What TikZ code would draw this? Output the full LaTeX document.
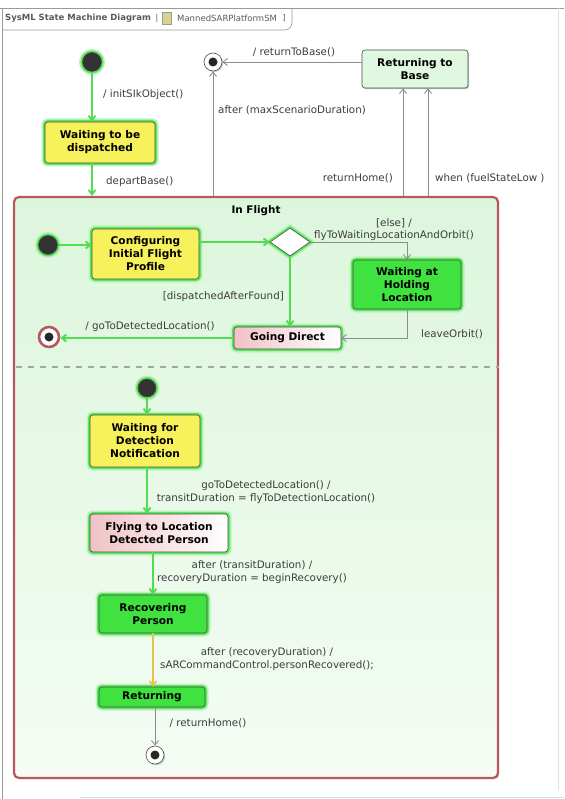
\documentclass[tikz,border=0pt]{standalone}
\usepackage{fontspec}
\setmainfont{DejaVu Sans}
\usetikzlibrary{arrows.meta,shapes.geometric,shadows,calc}

\definecolor{glowgreen}{HTML}{5CE65C}
\definecolor{glowsoft}{HTML}{BDF3BD}
\definecolor{edgegray}{HTML}{4A4A4A}
\definecolor{stateyellow}{HTML}{F7F15C}
\definecolor{stategreen}{HTML}{3FE23F}
\definecolor{statepink}{HTML}{F0C2C6}
\definecolor{palegreen}{HTML}{E0F8E0}
\definecolor{flightborder}{HTML}{B8585E}
\definecolor{flighttop}{HTML}{DCF6DC}
\definecolor{flightbottom}{HTML}{F4FCF4}
\definecolor{linegreen}{HTML}{52DC52}
\definecolor{linegray}{HTML}{8C8C8C}
\definecolor{lineyellow}{HTML}{E2C447}
\definecolor{labelgray}{HTML}{3C3C3C}
\definecolor{framegray}{HTML}{9A9A9A}
\definecolor{dotgray}{HTML}{333333}

\tikzset{
  x=1pt, y=-1pt,
  glow/.style={preaction={draw=glowsoft,line width=7pt},
               preaction={draw=glowgreen,line width=4pt}},
  softshadow/.style={drop shadow={shadow xshift=1.2pt,shadow yshift=-1.2pt,opacity=0.35,fill=black!60}},
  statebox/.style={rectangle,rounded corners=3pt,draw=edgegray,line width=0.6pt,
     align=center,inner sep=0pt,text=black,
     font=\fontsize{10.6}{13}\selectfont\bfseries},
  yellowbox/.style={statebox,glow,fill=stateyellow},
  greenbox/.style={statebox,glow,fill=stategreen},
  pinkbox/.style={statebox,glow,left color=statepink,right color=white},
  palebox/.style={statebox,softshadow,fill=palegreen},
  initdot/.style={circle,fill=dotgray,draw=edgegray,line width=0.5pt,
     minimum size=19pt,inner sep=0pt,glow},
  finaldot/.style={circle,draw=edgegray,fill=white,line width=0.6pt,
     minimum size=18pt,inner sep=0pt,softshadow,
     path picture={\fill[black!85] (path picture bounding box.center) circle (4.5pt);}},
  exitdot/.style={circle,draw=flightborder,fill=white,line width=2.6pt,
     minimum size=20pt,inner sep=0pt,
     path picture={\fill[black!85] (path picture bounding box.center) circle (4.5pt);}},
  tlabel/.style={text=labelgray,font=\fontsize{10.3}{12.5}\selectfont,inner sep=1pt,align=center},
  trans/.style={-{Straight Barb[length=4.5pt,width=7pt]},line width=0.9pt},
  graytrans/.style={trans,draw=linegray},
  greentrans/.style={trans,draw=linegreen,line width=1.9pt},
  yellowtrans/.style={trans,draw=lineyellow,line width=1.6pt},
  headertext/.style={text=black!65,inner sep=0pt,font=\fontsize{8}{9}\selectfont},
}

\begin{document}
\begin{tikzpicture}
\useasboundingbox (0,0) rectangle (564,799);

% diagram frame and its name tab
\draw[framegray,line width=0.8pt] (0,8) -- (564,8);
\draw[framegray,line width=0.8pt] (2,8) -- (2,799);
\draw[black!12,line width=0.6pt] (558,8) -- (558,790);
\draw[framegray,line width=0.7pt] (2,30) -- (285,30) to[out=0,in=-90] (292,22) -- (292,8);
\draw[color=black!15!cyan!25,line width=1pt] (80,797) -- (564,797);
\node[headertext,anchor=west,font=\fontsize{8.5}{9}\selectfont\bfseries] (hdrkind) at (5,18) {SysML State Machine Diagram};
\node[headertext] (hdrbar) at (157,18) {|};
\node[draw=black!40,fill=olive!35!white,minimum width=9pt,minimum height=12pt,inner sep=0pt] (hdricon) at (167,18) {};
\node[headertext,anchor=west,font=\fontsize{8.5}{9}\selectfont] (hdrname) at (177,18) {MannedSARPlatformSM};
\node[headertext] (hdrend) at (284,18) {]};

% composite state
\node[rectangle,rounded corners=5pt,draw=flightborder,line width=2.2pt,
      top color=flighttop,bottom color=flightbottom,softshadow,
      minimum width=484pt,minimum height=581pt,inner sep=0pt] (inflight) at (256,487.5) {};
\node[font=\fontsize{10.4}{12}\selectfont\bfseries] (flighttitle) at (256,211) {In Flight};
\draw[black!35,line width=1.3pt,dash pattern=on 6pt off 6pt] (inflight.west |- 0,367) ++(3,0) coordinate (sepL) -- (inflight.east |- 0,367) coordinate (sepR);

% top level states
\node[initdot] (init1) at (92,62) {};
\node[finaldot] (final1) at (213,62) {};
\node[yellowbox,minimum width=110pt,minimum height=41pt] (wait) at (100,142.5) {Waiting to be\\dispatched};
\node[palebox,minimum width=106pt,minimum height=38pt] (rtb) at (415,69) {Returning to\\Base};

% upper region of In Flight
\node[initdot] (init2) at (48,245) {};
\node[yellowbox,minimum width=107pt,minimum height=50pt] (conf) at (145.5,254) {Configuring\\Initial Flight\\Profile};
\node[diamond,draw=edgegray,fill=white,line width=0.6pt,glow,
      minimum width=40pt,minimum height=28pt,inner sep=0pt] (dec) at (290,242) {};
\node[greenbox,minimum width=108pt,minimum height=49pt] (hold) at (407,284.5) {Waiting at\\Holding\\Location};
\node[pinkbox,minimum width=107pt,minimum height=22pt] (direct) at (287.5,338) {Going Direct};
\node[exitdot] (exit) at (49,337) {};

% lower region of In Flight
\node[initdot,minimum size=18pt] (init3) at (147,388) {};
\node[yellowbox,minimum width=110pt,minimum height=52pt] (wdet) at (145,441) {Waiting for\\Detection\\Notification};
\node[pinkbox,minimum width=138pt,minimum height=38pt] (fly) at (159,533) {Flying to Location\\Detected Person};
\node[greenbox,minimum width=108pt,minimum height=38pt] (rec) at (153,614) {Recovering\\Person};
\node[greenbox,minimum width=106pt,minimum height=20pt] (ret) at (152,697) {Returning};
\node[finaldot] (final3) at (155,755) {};

% top level transitions
\draw[greentrans] (init1) -- (init1 |- wait.north);
\node[tlabel,anchor=west] (lInit) at (102,95) {/ initSIkObject()};
\draw[greentrans] (wait.south -| init1) -- (init1 |- inflight.north);
\node[tlabel,anchor=west] (lDepart) at (105,182) {departBase()};
\draw[graytrans] (inflight.north -| final1) -- (final1);
\node[tlabel,anchor=west] (lMax) at (217,110) {after (maxScenarioDuration)};
\draw[graytrans] (rtb.west |- final1) -- (final1);
\node[tlabel] (lRtb) at (294,52) {/ returnToBase()};
\coordinate (homeX) at (403,0);
\coordinate (fuelX) at (428,0);
\draw[graytrans] (inflight.north -| homeX) -- (homeX |- rtb.south);
\node[tlabel,anchor=east] (lHome) at (394,178) {returnHome()};
\draw[graytrans] (inflight.north -| fuelX) -- (fuelX |- rtb.south);
\node[tlabel,anchor=west] (lFuel) at (434,178) {when (fuelStateLow )};

% upper region transitions
\draw[greentrans] (init2) -- (init2 -| conf.west);
\draw[greentrans] (conf.east |- dec.west) -- (dec.west);
\draw[graytrans] (dec.east) -| (hold.north);
\node[tlabel] (lElse) at (394,229.5) {[else] /\\flyToWaitingLocationAndOrbit()};
\draw[greentrans] (dec.south) -- (dec.south |- direct.north);
\node[tlabel,anchor=east] (lFound) at (285,297) {[dispatchedAfterFound]};
\draw[graytrans] (hold.south) |- (direct.east);
\node[tlabel,anchor=west] (lLeave) at (420,334) {leaveOrbit()};
\draw[greentrans] (direct.west) -- (direct.west -| exit.east);
\node[tlabel] (lGoto) at (150,327) {/ goToDetectedLocation()};

% lower region transitions
\draw[greentrans] (init3) -- (init3 |- wdet.north);
\draw[greentrans] (wdet.south -| init3) -- (init3 |- fly.north);
\node[tlabel] (lTransit) at (266,492) {goToDetectedLocation() /\\transitDuration = flyToDetectionLocation()};
\draw[greentrans] (fly.south -| rec) -- (rec.north);
\node[tlabel] (lRecovery) at (252,572) {after (transitDuration) /\\recoveryDuration = beginRecovery()};
\draw[yellowtrans] (rec.south) -- (rec.south |- ret.north);
\node[tlabel] (lRecovered) at (267,659) {after (recoveryDuration) /\\sARCommandControl.personRecovered();};
\draw[graytrans] (ret.south -| final3) -- (final3);
\node[tlabel] (lRetHome) at (208,723) {/ returnHome()};
\end{tikzpicture}
\end{document}
